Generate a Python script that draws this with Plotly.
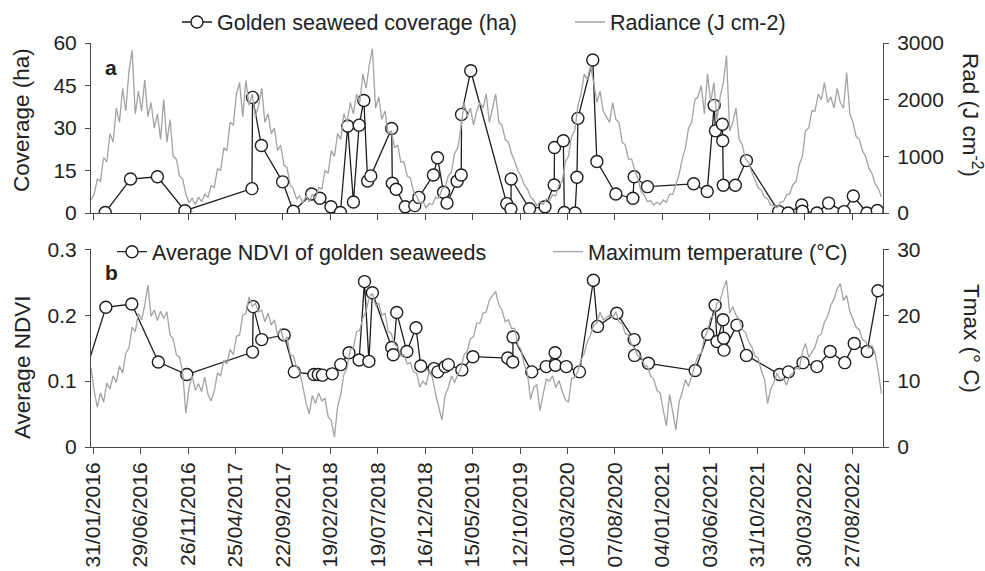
import pandas as pd
import plotly.graph_objects as go

# ---------------- data ----------------
ref_date = "2016-01-31"          # day 0 for the observation offsets
series_start = "2016-01-24"      # first sample of the meteorological series
series_step_days = 10

# Golden seaweed coverage (ha): observation day offsets and values
cov_days = [38, 118, 203, 290, 502, 504, 532, 599, 633, 691, 717, 752, 782, 805, 823, 841, 856, 868,
            878, 944, 946, 958, 987, 1017, 1030, 1076, 1089, 1108, 1119, 1151, 1164, 1165, 1194, 1308,
            1321, 1322, 1380, 1429, 1458, 1459, 1487, 1490, 1524, 1530, 1533, 1580, 1593, 1653, 1707,
            1711, 1753, 1899, 1942, 1964, 1968, 1990, 1991, 1993, 2031, 2066, 2168, 2198, 2241, 2243,
            2289, 2326, 2375, 2404, 2447, 2480]
cov_vals = [0.2, 12, 12.8, 0.8, 8.6, 40.8, 23.8, 11, 0.6, 6.7, 5.2, 2.2, 0.2, 30.7, 3.9, 31, 39.7, 11.3,
            13.1, 29.8, 10.5, 8.4, 2.2, 2.6, 5.5, 13.4, 19.5, 7.3, 3.5, 11.2, 13.4, 34.8, 50.2, 3.3,
            1.4, 12, 1.5, 2.2, 9.9, 23.1, 25.5, 0.2, 0, 12.6, 33.4, 54, 18.2, 6.7, 5.2,
            12.8, 9.3, 10.3, 7.6, 38, 29, 31.3, 25.5, 9.8, 9.8, 18.5, 0.5, 0, 2.8, 0.6,
            0, 3.5, 0.5, 6, 0, 0.9]

# Average NDVI of golden seaweeds
ndvi_days = [-30, 40, 122, 206, 296, 504, 506, 533, 604, 636, 698, 712, 725, 756, 783, 809, 841, 858,
             872, 883, 944, 949, 960, 992, 1021, 1036, 1078, 1090, 1113, 1123, 1166, 1201, 1311, 1327,
             1328, 1387, 1433, 1461, 1462, 1496, 1538, 1582, 1595, 1656, 1711, 1712, 1756, 1904, 1944,
             1967, 1973, 1992, 1994, 1995, 2036, 2066, 2171, 2199, 2245, 2289, 2331, 2377, 2407, 2448, 2482]
ndvi_vals = [0.105, 0.212, 0.217, 0.129, 0.110, 0.144, 0.213, 0.163, 0.170, 0.114, 0.110, 0.110, 0.109,
             0.111, 0.125, 0.143, 0.132, 0.251, 0.130, 0.234, 0.151, 0.140, 0.204, 0.145, 0.181, 0.123,
             0.119, 0.114, 0.122, 0.125, 0.117, 0.137, 0.135, 0.129, 0.167, 0.114, 0.122, 0.143, 0.124,
             0.122, 0.114, 0.253, 0.183, 0.203, 0.163, 0.139, 0.127, 0.116, 0.171, 0.215, 0.160, 0.193,
             0.165, 0.147, 0.185, 0.139, 0.110, 0.114, 0.128, 0.122, 0.145, 0.128, 0.157, 0.145, 0.237]

# Radiance (J cm-2), every 10 days
radiance = [230, 330, 600, 560, 980, 900, 1400, 1250, 1850, 1600,
            2200, 1800, 2500, 2870, 1750, 2150, 1800, 2350, 1700, 1950,
            1500, 1750, 1300, 2000, 1250, 1650, 1000, 950, 650, 600,
            330, 180, 260, 150, 280, 200, 330, 280, 480, 450,
            780, 750, 1150, 1100, 1600, 1550, 2100, 2300, 1700, 2340,
            1900, 2100, 1700, 1900, 2200, 1600, 1750, 1400, 1500, 1100,
            1200, 850, 800, 500, 420, 250, 300, 180, 300, 200,
            330, 250, 450, 420, 750, 700, 1100, 1000, 1400, 1300,
            1750, 1600, 1950, 1750, 2100, 1950, 2450, 2200, 2600, 2900,
            1850, 2050, 1650, 1800, 1400, 1450, 1150, 1200, 900, 900,
            650, 620, 380, 300, 170, 200, 90, 170, 150, 280,
            260, 420, 460, 650, 720, 1050, 1150, 1500, 1950, 1700,
            1850, 1550, 1800, 1950, 1850, 2100, 1600, 1850, 2100, 1600,
            1550, 1300, 1250, 1050, 920, 750, 650, 500, 430, 280,
            230, 130, 200, 150, 250, 220, 320, 300, 500, 550,
            900, 1000, 1350, 1450, 1900, 2100, 2450, 2350, 2600, 2300,
            1950, 2150, 1800, 1700, 1600, 1950, 1650, 1600, 1250, 1200,
            950, 950, 750, 600, 380, 320, 200, 220, 140, 190,
            150, 230, 190, 330, 330, 500, 680, 950, 1150, 1500,
            1600, 2000, 2050, 2250, 1750, 2450, 1950, 2300, 1650, 2050,
            2300, 2780, 1450, 1600, 1850, 1300, 1200, 950, 900, 720,
            600, 450, 400, 280, 250, 140, 130, 90, 190, 200,
            320, 340, 500, 550, 850, 1000, 1450, 1500, 1800, 1800,
            2100, 2000, 2300, 1950, 2050, 1850, 2200, 1950, 1850, 2480,
            1750, 1600, 1350, 1300, 1100, 1000, 800, 700, 520, 430, 280]

# Maximum temperature (°C), every 10 days
tmax = [12.0, 8.5, 6.0, 8.2, 6.8, 9.7, 8.8, 10.8, 9.8, 12.3,
        11.2, 14.2, 15.0, 18.2, 17.5, 20.3, 19.3, 21.5, 24.6, 19.8,
        20.8, 19.2, 20.6, 19.5, 20.5, 17.0, 16.4, 14.0, 13.6, 11.4,
        5.1, 9.0, 10.8, 8.6, 9.6, 8.4, 10.6, 8.0, 7.0, 8.5,
        11.2, 10.8, 13.2, 12.6, 14.8, 14.0, 16.8, 17.0, 20.0, 20.2,
        22.8, 21.3, 21.8, 20.5, 20.8, 19.0, 20.3, 18.5, 19.3, 17.0,
        18.0, 16.0, 16.7, 14.0, 13.8, 12.2, 11.5, 9.0, 6.8, 5.0,
        7.8, 6.6, 8.2, 7.0, 7.4, 4.6, 4.0, 1.5, 6.1, 8.0,
        11.0, 12.0, 14.8, 15.0, 17.5, 17.7, 19.6, 20.6, 22.8, 23.3,
        21.5, 21.8, 20.0, 20.3, 17.5, 17.2, 15.6, 15.2, 13.8, 14.0,
        12.6, 12.8, 11.4, 11.2, 9.1, 10.0, 9.4, 11.7, 10.5, 8.0,
        6.0, 4.1, 7.8, 9.0, 10.8, 9.8, 11.0, 12.0, 14.0, 14.5,
        16.4, 16.8, 18.8, 18.8, 20.3, 20.5, 22.3, 23.0, 23.6, 21.5,
        20.8, 19.0, 19.3, 18.0, 18.0, 15.5, 14.8, 12.5, 11.4, 7.2,
        9.0, 9.5, 5.5, 8.0, 10.3, 10.0, 10.8, 9.0, 10.1, 8.5,
        7.2, 6.8, 10.4, 10.6, 11.5, 13.2, 14.2, 16.0, 17.0, 18.5,
        18.8, 20.5, 19.3, 19.6, 20.0, 19.6, 20.5, 19.0, 18.7, 17.2,
        17.0, 15.5, 15.0, 13.8, 13.8, 12.4, 12.2, 10.8, 10.3, 8.6,
        8.2, 5.6, 3.2, 8.0, 5.5, 2.6, 6.8, 8.3, 10.2, 9.2,
        10.8, 12.3, 13.9, 14.2, 16.5, 17.6, 19.6, 20.0, 21.8, 22.2,
        24.0, 25.3, 20.3, 21.3, 20.0, 19.4, 17.8, 17.4, 16.0, 15.2,
        13.8, 13.5, 11.6, 10.3, 6.6, 8.8, 9.8, 11.2, 10.2, 10.4,
        9.4, 10.8, 11.2, 12.0, 11.8, 14.4, 15.7, 13.6, 14.4, 15.2,
        16.8, 17.2, 19.0, 19.8, 21.6, 22.4, 24.0, 24.8, 22.2, 23.0,
        20.6, 19.4, 18.2, 17.8, 16.3, 16.0, 15.0, 15.4, 14.2, 11.5, 8.1]

tick_labels = ["31/01/2016", "29/06/2016", "26/11/2016", "25/04/2017", "22/09/2017", "19/02/2018",
               "19/07/2018", "16/12/2018", "15/05/2019", "12/10/2019", "10/03/2020", "07/08/2020",
               "04/01/2021", "03/06/2021", "31/10/2021", "30/03/2022", "27/08/2022"]
x_range = ["2016-01-24", "2022-12-03"]

# ---------------- build ----------------
ref = pd.Timestamp(ref_date)
cov_x = ref + pd.to_timedelta(cov_days, unit="D")
ndvi_x = ref + pd.to_timedelta(ndvi_days, unit="D")
met_x = pd.date_range(series_start, periods=len(radiance), freq=f"{series_step_days}D")
tick_vals = pd.to_datetime(tick_labels, format="%d/%m/%Y")

FONT = "Arial, Liberation Sans, sans-serif"
AX = "#4a4a4a"
TXT = "#222222"
GRAY = "#a3a3a3"
BLACK = "#1e1e1e"

W, H = 985, 571
ML, MR, MT, MB = 91, 102, 43, 124
PW, PH = W - ML - MR, H - MT - MB


def px(xp):
    return (xp - ML) / PW


def py(yp):
    return (H - MB - yp) / PH


fig = go.Figure()

circle = dict(symbol="circle", size=12, color="white", line=dict(color=BLACK, width=1.4))

fig.add_trace(go.Scatter(x=cov_x, y=cov_vals, mode="lines+markers", name="Golden seaweed coverage (ha)",
                         line=dict(color=BLACK, width=1.3), marker=circle, xaxis="x", yaxis="y",
                         legend="legend"))
fig.add_trace(go.Scatter(x=met_x, y=radiance, mode="lines", name="Radiance (J cm-2)",
                         line=dict(color=GRAY, width=1.3), xaxis="x", yaxis="y2", legend="legend2"))
fig.add_trace(go.Scatter(x=ndvi_x, y=ndvi_vals, mode="lines+markers", name="Average NDVI of golden seaweeds",
                         line=dict(color=BLACK, width=1.3), marker=circle, xaxis="x2", yaxis="y3",
                         legend="legend3"))
fig.add_trace(go.Scatter(x=met_x, y=tmax, mode="lines", name="Maximum temperature (°C)",
                         line=dict(color=GRAY, width=1.3), xaxis="x2", yaxis="y4", legend="legend4"))

dom_a = [py(213), 1.0]
dom_b = [0.0, py(249.3)]

common_x = dict(type="date", range=x_range, tickmode="array", tickvals=tick_vals, ticktext=tick_labels,
                showline=True, linecolor=AX, linewidth=1, ticks="outside", ticklen=6, tickcolor=AX,
                showgrid=False, zeroline=False, tickfont=dict(family=FONT, size=21, color=TXT))
common_y = dict(showline=True, linecolor=AX, linewidth=1, ticks="outside", ticklen=5, tickcolor=AX,
                showgrid=False, zeroline=False, tickfont=dict(family=FONT, size=21, color=TXT),
                ticklabelstandoff=4)

fig.update_layout(
    width=W, height=H, margin=dict(l=ML, r=MR, t=MT, b=MB, pad=0, autoexpand=False),
    paper_bgcolor="white", plot_bgcolor="white",
    font=dict(family=FONT, size=21, color=TXT),
    xaxis=dict(common_x, domain=[0, 1], anchor="y", showticklabels=False),
    xaxis2=dict(common_x, domain=[0, 1], anchor="y3", tickangle=-90, matches="x"),
    yaxis=dict(common_y, domain=dom_a, anchor="x", range=[0, 60], tickvals=[0, 15, 30, 45, 60]),
    yaxis2=dict(common_y, overlaying="y", side="right", anchor="x", range=[0, 3000],
                tickvals=[0, 1000, 2000, 3000]),
    yaxis3=dict(common_y, domain=dom_b, anchor="x2", range=[0, 0.3], tickvals=[0, 0.1, 0.2, 0.3],
                ticktext=["0", "0.1", "0.2", "0.3"]),
    yaxis4=dict(common_y, overlaying="y3", side="right", anchor="x2", range=[0, 30],
                tickvals=[0, 10, 20, 30]),
    showlegend=True,
)

leg_common = dict(orientation="h", xanchor="left", yanchor="middle", bgcolor="rgba(0,0,0,0)",
                  borderwidth=0, font=dict(family=FONT, size=21.5, color=TXT), itemsizing="trace")
fig.update_layout(
    legend=dict(leg_common, x=px(177), y=py(22)),
    legend2=dict(leg_common, x=px(570), y=py(22)),
    legend3=dict(leg_common, x=px(112), y=py(251.7)),
    legend4=dict(leg_common, x=px(548), y=py(251.7)),
)

ann = [
    dict(text="<b>a</b>", x=px(111), y=py(67), textangle=0, size=21),
    dict(text="<b>b</b>", x=px(111), y=py(272), textangle=0, size=21),
    dict(text="Coverage (ha)", x=px(22), y=py(120), textangle=-90, size=22.5),
    dict(text="Average NDVI", x=px(22), y=py(368), textangle=-90, size=22.5),
    dict(text="Rad (J cm<sup>-2</sup>)", x=px(972), y=py(115), textangle=90, size=22.5),
    dict(text="Tmax (° C)", x=px(972), y=py(338), textangle=90, size=22.5),
]
for a in ann:
    fig.add_annotation(text=a["text"], x=a["x"], y=a["y"], xref="paper", yref="paper",
                       xanchor="center", yanchor="middle", showarrow=False, textangle=a["textangle"],
                       font=dict(family=FONT, size=a["size"], color=TXT))

fig.write_html("out.html")
